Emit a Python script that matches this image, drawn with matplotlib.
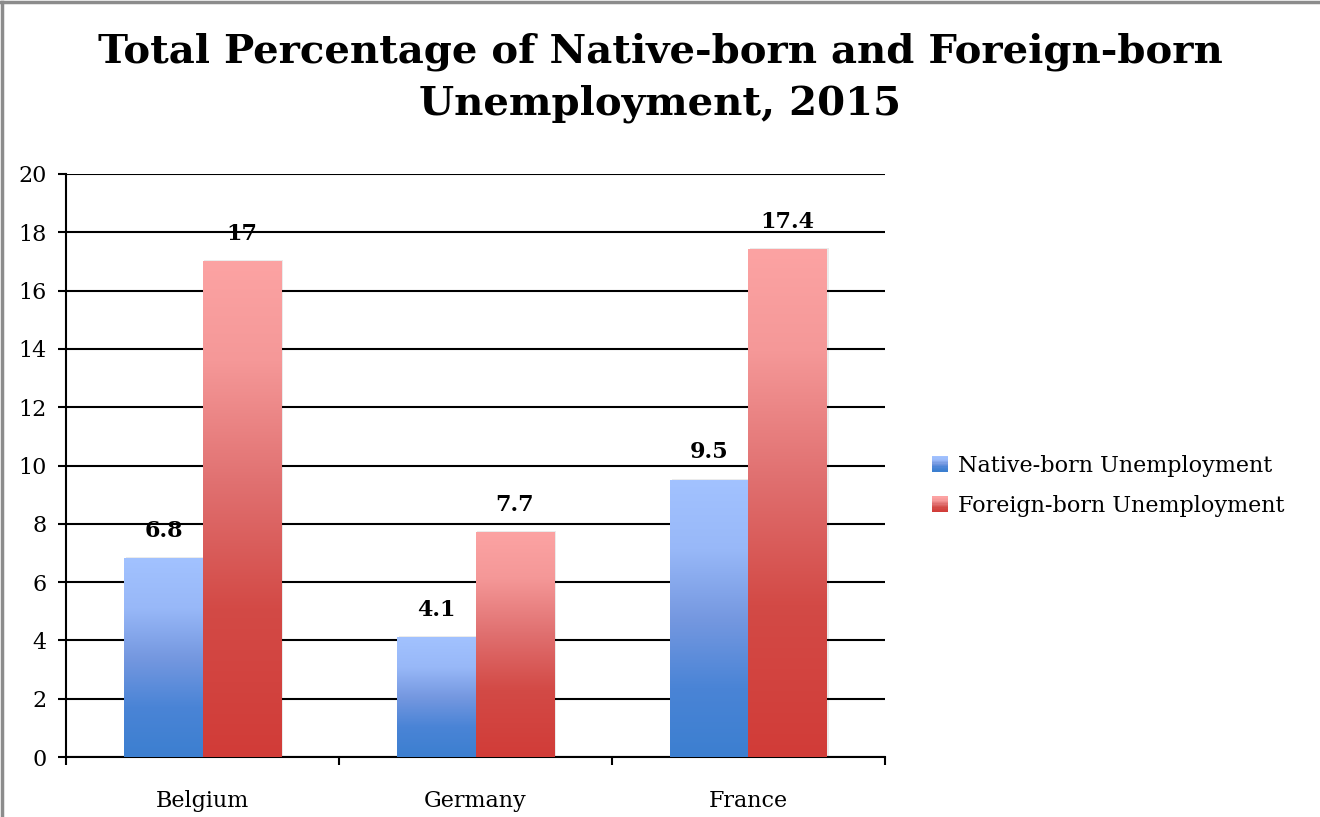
import matplotlib
matplotlib.use("Agg")
import matplotlib.pyplot as plt
import numpy as np
from matplotlib.colors import LinearSegmentedColormap
from matplotlib.patches import Rectangle
from matplotlib.lines import Line2D
from matplotlib.legend_handler import HandlerBase

countries = ["Belgium", "Germany", "France"]
native = [6.8, 4.1, 9.5]
foreign = [17, 7.7, 17.4]
series_names = ["Native-born Unemployment", "Foreign-born Unemployment"]
title = "Total Percentage of Native-born and Foreign-born\nUnemployment, 2015"

FONT = ["DejaVu Serif"]
plt.rcParams["font.family"] = FONT

blue_cmap = LinearSegmentedColormap.from_list(
    "b", [(0.0, "#3c7fd0"), (0.25, "#4a84d6"), (0.5, "#7598e0"), (0.75, "#98b8f8"), (1.0, "#a2c2ff")])
red_cmap = LinearSegmentedColormap.from_list(
    "r", [(0.0, "#d13c38"), (0.3, "#d34a46"), (0.55, "#e07070"), (0.8, "#f59898"), (1.0, "#fca3a3")])

fig = plt.figure(figsize=(13.2, 8.17), dpi=100)
ax = fig.add_axes([66/1320, 1-757/817, (885-66)/1320, (757-174)/817])

x = np.arange(len(countries))
w = 0.286
grad = np.linspace(0, 1, 256).reshape(-1, 1)

def grad_bars(xs, vals, cmap):
    bars = ax.bar(xs, vals, w, color="none", edgecolor="none", zorder=3)
    for b in bars:
        x0, x1 = b.get_x(), b.get_x() + b.get_width()
        h = b.get_height()
        ax.add_patch(Rectangle((x0 + 0.006, 0), x1 - x0 + 0.004, h + 0.05,
                               facecolor="#000000", alpha=0.08, edgecolor="none", zorder=2.5))
        ax.imshow(grad, cmap=cmap, origin="lower", extent=(x0, x1, 0, h),
                  aspect="auto", zorder=3, interpolation="bilinear")
    return bars

grad_bars(x - w/2, native, blue_cmap)
grad_bars(x + w/2, foreign, red_cmap)

for xi, v in zip(x - w/2, native):
    ax.text(xi, v + 0.95, f"{v:g}", ha="center", va="center", fontsize=16, fontweight="bold")
for xi, v in zip(x + w/2, foreign):
    ax.text(xi, v + 0.95, f"{v:g}", ha="center", va="center", fontsize=16, fontweight="bold")

ax.set_xlim(-0.5, 2.5)
ax.set_ylim(0, 20)
ax.set_yticks(np.arange(0, 21, 2))
ax.yaxis.grid(True, color="black", linewidth=1.5, zorder=1)
ax.set_axisbelow(True)
ax.set_xticks([-0.5, 0.5, 1.5, 2.5])
ax.set_xticklabels([])
ax.set_xticks(x, minor=True)
ax.set_xticklabels(countries, minor=True)
ax.tick_params(axis="x", which="minor", length=0, pad=24, labelsize=16)
ax.tick_params(axis="x", which="major", length=6, width=1.5, direction="out")
ax.tick_params(axis="y", length=6, width=1.5, labelsize=16, pad=8)
for s in ["top", "right"]:
    ax.spines[s].set_visible(False)
ax.spines["left"].set_linewidth(1.5)
ax.spines["bottom"].set_linewidth(1.5)

fig.text(0.5, 1-78/817, title, ha="center", va="center", fontsize=29, fontweight="bold",
         linespacing=1.45)

class GradHandler(HandlerBase):
    def __init__(self, cmap):
        super().__init__()
        self.cmap = cmap
    def create_artists(self, legend, orig_handle, xdescent, ydescent, width, height, fontsize, trans):
        arts = []
        n = 12
        size = height * 1.0
        x0 = -xdescent + (width - size) / 2
        for i in range(n):
            r = Rectangle((x0, -ydescent + size * i / n), size, size / n + 0.3,
                          facecolor=self.cmap(i / (n - 1)), edgecolor="none", transform=trans)
            arts.append(r)
        return arts

h1 = Rectangle((0, 0), 1, 1)
h2 = Rectangle((0, 0), 1, 1)
leg = fig.legend([h1, h2], series_names, loc="center left", bbox_to_anchor=(911/1320, 1-486/817),
                 frameon=False, fontsize=16, handler_map={h1: GradHandler(blue_cmap), h2: GradHandler(red_cmap)},
                 handlelength=0.8, handletextpad=0.4, labelspacing=0.85)

# gray frame on top and left edges
fig.add_artist(Line2D([0, 1], [1 - 2/817, 1 - 2/817], transform=fig.transFigure,
                      color="#8c8c8c", linewidth=2.5))
fig.add_artist(Line2D([2/1320, 2/1320], [0, 1 - 2/817], transform=fig.transFigure,
                      color="#8c8c8c", linewidth=2.5))

fig.savefig("out.png", dpi=100)
